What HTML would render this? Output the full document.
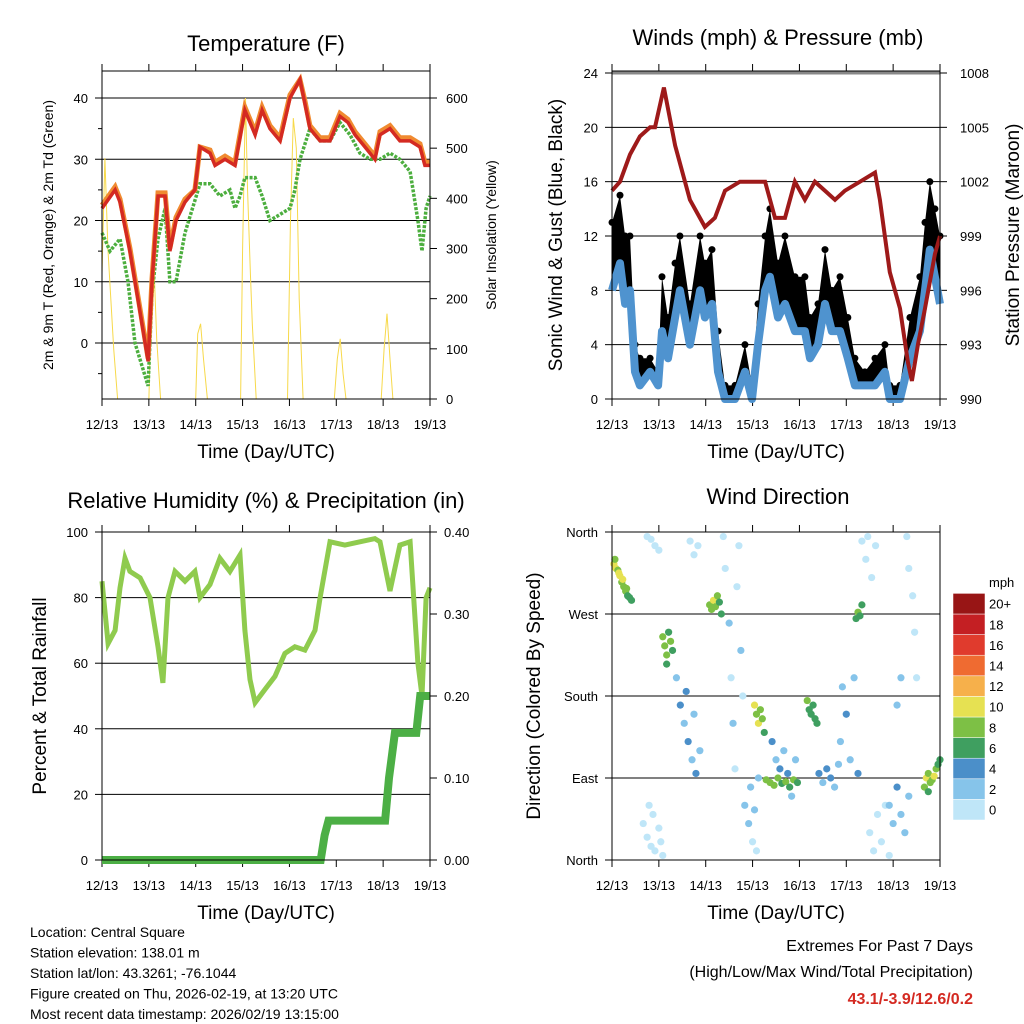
<!DOCTYPE html>
<html><head><meta charset="utf-8">
<style>
html,body{margin:0;padding:0;background:#fff;}
svg{display:block;font-family:"Liberation Sans",sans-serif;}
</style></head>
<body>
<svg id="chart" width="1024" height="1024" viewBox="0 0 1024 1024" xmlns="http://www.w3.org/2000/svg"></svg>
<script>
// ---------- DATA ----------
const dayLabels = ["12/13","13/13","14/13","15/13","16/13","17/13","18/13","19/13"];
// Temperature panel
const tempHours = [0,6.7,9.2,14.3,19.5,23.6,25.6,28.7,32.3,34.8,37.9,42.5,47.6,50.2,55.3,57.9,63,68.1,73.2,75.8,78.4,82,86,91.2,96.3,101.4,104,106.5,111.7,116.8,121.9,126,129.6,134.7,139.8,142.4,147.5,152.6,157.8,162.9,165.4,168];
const temp2m = [22,25,23,15,5,-3,10,24,24,15,20,23,25,32,31,29,30,29,38,36,34,38,35,33,40,43,39,35,33,33,37,36,34,32,30,34,35,33,33,32,29,29];
const temp9m = [22.5,25.5,23.5,15.5,5.5,-2.5,10.5,24.5,24.5,15.5,20.5,23.5,25,32,31.5,29.5,30.5,29.5,38.5,36.5,34.5,38.5,35.5,33.5,40.5,43,39.5,35.5,33.5,33.5,37.5,36.5,34.5,32.5,30.5,34.5,35.5,33.5,33.5,32.5,29.5,29.5];
const dewHours = [0,4.1,9.2,13.3,16.9,23.6,25.6,28.7,32.3,34.8,37.9,42.5,50.2,55.3,60.4,65.5,68.1,70.7,73.2,78.4,82,86,91.2,96.3,98.8,101.4,106.5,111.7,116.8,121.9,127,132.1,137.3,142.4,147.5,152.6,157.8,161.8,163.9,166,168];
const dewPoint = [18,15,17,10,0,-7,8,17,22,10,10,18,26,26,24,25,22,24,27,27,24,20,21,22,25,30,35,33,33,36,34,31,30,30,31,30,28,20,15,22,24];
const solarHours = [0,1.5,3,4.5,6,8,24,25,26.5,28,29,30,48,49,50.5,52,54,71,72,73.5,74.5,76,77,79,95,96.5,98,99.5,101,103,119,120.5,122,123.5,125,143,144.5,146,147.5,149,168];
const solarVals = [250,480,300,200,100,0,0,150,280,120,60,0,0,130,150,80,0,0,300,600,420,250,150,0,0,350,560,500,200,0,0,80,120,50,0,0,100,170,80,0,0];
// Winds panel
const windHours = [0,4.1,6.7,9.2,11.8,14.3,19.5,23.6,25.6,28.7,32.3,34.8,39.9,45.1,47.6,51.2,54.3,57.9,63,68.1,71.7,74.8,78.4,80.9,85,88.6,93.7,98.8,101.4,105.5,109.1,112.6,116.8,120.8,124.4,129.5,134.7,139.8,142.3,147.5,152.6,157.7,160.3,162.8,165.4,168];
const windSpeed = [8,10,7,8,2,1,2,1,5,3,6,8,4,8,6,7,2,0,0,2,0,4,8,9,6,7,5,5,3,4,7,5,5,3,1,1,1,2,0,0,3,5,8,11,9,7];
const windGust = [13,15,12,12,4,3,3,2,9,6,10,12,7,12,10,11,5,1,1,4,1,7,12,14,10,12,9,9,6,7,11,8,9,6,3,2,3,4,1,1,6,9,13,16,14,12];
const presHours = [0,4.1,9.2,14.3,19.5,22,26.6,32.3,39.9,47.6,52.7,57.9,65.5,73.2,78.4,83.5,88.6,93.7,98.8,103.9,109.1,114.2,119.3,127,134.7,137.2,142.3,147.5,151.6,153.6,156.7,160.3,165.4,168];
const pressure = [1001.5,1002,1003.5,1004.5,1005,1005,1007.2,1004,1001,999.5,1000,1001.5,1002,1002,1002,1000,1000,1002,1001,1002,1001.5,1001,1001.5,1002,1002.5,1001,997,995,992,991,993,995,998,999];
// RH panel
const rhHours = [0,3.1,6.7,9.2,11.8,14.3,19.5,24.6,28.7,31.2,33.8,37.4,42.5,47.6,50.2,55.3,60.4,65.5,70.7,73.2,75.8,78.4,83.5,88.6,93.7,98.8,103.9,109.1,111.7,116.8,124.4,132.1,139.8,142.4,147.5,152.6,157.8,161.8,163.9,166,168];
const rhVals = [85,66,70,83,92,88,86,80,65,54,80,88,85,88,80,84,92,88,93,70,55,48,52,56,63,65,64,70,80,97,96,97,98,97,82,96,97,60,50,80,83];
const precipHours = [0,112,114,116,145,147,150,161,163,168];
const precipVals = [0,0,0.03,0.048,0.048,0.1,0.155,0.155,0.2,0.2];
// Wind direction panel
const dirHours = [1,2,3,4,5,6,7,8,9,10,1.5,3.5,5.5,7.5, 20,22,24,18, 16,18,19,20,21,22,24,25,26, 26,27,28,29,30,31,28, 33,35,37,39,41,43,45,38,42, 40,42,44, 50,51,52,53,54,55,56, 57,58,60,61,62,63,64,65,66,67, 68,70,71,72,73,74,75, 73,74,75,76,77,78, 79,81,83,85,87,89,91,93,95, 82,84,86,88,90,92,94, 100,101,102,103,104,105, 106,108,110,112,114,116, 117,118,120,122,124,126, 125,126,127,128, 128,130,131,133,135, 132,134,136,138,140,142, 142,144,146,148,150,152,146,148, 151,152,154,155,156, 160,161,162,163,164,165,166,167,168,162];
const dirDegs = [325,320,318,312,305,300,295,290,288,285,330,315,308,298, 352,345,340,355, 40,25,60,15,50,10,35,20,5, 245,235,225,250,240,230,215, 200,170,150,130,110,95,120,185,160, 350,335,345, 280,275,285,278,290,283,270, 355,320,260,200,150,100,300,345,230,180, 60,40,80,20,55,10,90, 170,160,150,165,155,140, 88,85,82,90,84,86,80,88,85, 130,110,100,120,95,70,110, 175,165,160,170,155,150, 95,85,100,90,80,105, 130,190,160,110,200,95, 265,272,268,280, 350,330,355,310,345, 30,10,50,20,60,5, 60,40,80,50,30,70,170,200, 355,320,290,250,200, 80,90,95,85,88,92,100,105,110,75];
const dirSpeeds = [10,10,9,10,9,8,8,7,7,6,9,11,10,8, 1,1,1,1, 0,1,1,0,1,0,1,1,0, 8,9,8,7,8,7,6, 3,4,3,4,3,4,3,4,3, 1,1,1, 9,8,10,9,8,7,6, 0,1,2,1,2,1,1,0,2,1, 3,2,3,1,2,1,3, 10,9,10,8,9,7, 9,8,9,8,7,8,7,8,6, 4,3,4,3,4,3,3, 8,7,6,7,6,7, 4,3,4,4,3,3, 3,3,4,3,3,4, 7,8,7,6, 1,1,0,1,1, 0,1,1,0,1,0, 3,3,4,2,3,3,3,2, 1,1,1,1,1, 9,10,9,8,9,11,8,7,6,7];
const cbarLabels = ["0","2","4","6","8","10","12","14","16","18","20+"];
const cbarColors = ["#bfe6f8","#86c4ea","#4b8fc9","#3f9f60","#7dc045","#e6e152","#f6b04b","#ef6b31","#e03b2d","#c41f23","#981515"];

// ---------- HELPERS ----------
const NS="http://www.w3.org/2000/svg";
const svg=document.getElementById('chart');
function el(tag,attrs,parent){const e=document.createElementNS(NS,tag);for(const k in attrs)e.setAttribute(k,attrs[k]);(parent||svg).appendChild(e);return e;}
function txt(s,x,y,size,anchor,parent,extra){const e=el('text',Object.assign({x:x,y:y,'font-size':size,'text-anchor':anchor||'middle',fill:'#000'},extra||{}),parent);e.textContent=s;return e;}
function lin(d0,d1,r0,r1){return v=>r0+(v-d0)/(d1-d0)*(r1-r0);}
function pts(xs,ys,fx,fy){return xs.map((h,i)=>fx(h).toFixed(1)+','+fy(ys[i]).toFixed(1)).join(' ');}

function xAxis(g,L,R,B,T){
  const fx=lin(0,168,L,R);
  for(let d=0;d<=7;d++){
    const x=fx(d*24);
    el('line',{x1:x,y1:B,x2:x,y2:B+7,stroke:'#000','stroke-width':1},g);
    el('line',{x1:x,y1:T,x2:x,y2:T-7,stroke:'#000','stroke-width':1},g);
    const t=txt(dayLabels[d],x,B+30,13,'middle',g);
    
    
  }
  const xt=txt('Time (Day/UTC)',(L+R)/2,B+59,19,'middle',g);
  
  
  return fx;
}
function frame(g,L,R,T,B){el('rect',{x:L,y:T,width:R-L,height:B-T,fill:'none',stroke:'#000','stroke-width':1},g);}

// ---------- PANEL 1: TEMPERATURE ----------
(function(){
  const g=el('g',{});
  
  
  const L=102,R=430,T=71,B=399;
  const fx=xAxis(g,L,R,B,T);
  const fy=lin(0,40,343,98);
  const fs=lin(0,600,399,98);
  [0,10,20,30,40].forEach(v=>{el('line',{x1:L,y1:fy(v),x2:R,y2:fy(v),stroke:'#000','stroke-width':1},g);
    el('line',{x1:L-7,y1:fy(v),x2:L,y2:fy(v),stroke:'#000'},g);
    const t=txt(String(v),L-14,fy(v)+5,13,'end',g);});
  [-5,5,15,25,35].forEach(v=>el('line',{x1:L-4,y1:fy(v),x2:L,y2:fy(v),stroke:'#000'},g));
  [0,100,200,300,400,500,600].forEach(v=>{el('line',{x1:R,y1:fs(v),x2:R+7,y2:fs(v),stroke:'#000'},g);
    const t=txt(String(v),R+16,fs(v)+5,13,'start',g);});
  const sol=el('polyline',{points:pts(solarHours,solarVals,fx,fs),fill:'none',stroke:'#f7d94a','stroke-width':1},g);
  
  const dw=el('polyline',{points:pts(dewHours,dewPoint,fx,fy),fill:'none',stroke:'#4cae3e','stroke-width':3.5,'stroke-dasharray':'3 1.5'},g);
  
  const t9=el('polyline',{points:pts(tempHours,temp9m,fx,fy),fill:'none',stroke:'#f08a30','stroke-width':5},g);
  
  const t2=el('polyline',{points:pts(tempHours,temp2m,fx,fy),fill:'none',stroke:'#d42a22','stroke-width':3.5},g);
  
  frame(g,L,R,T,B);
  const ti=txt('Temperature (F)',266,51,22,'middle',g);
  const yl=txt('2m & 9m T (Red, Orange) & 2m Td (Green)',0,0,14,'middle',g,{transform:'translate(53,235) rotate(-90)'});
  
  const yr=txt('Solar Insolation (Yellow)',0,0,14,'middle',g,{transform:'translate(496,235) rotate(-90)'});
  
})();

// ---------- PANEL 2: WINDS ----------
(function(){
  const g=el('g',{});
  
  
  const L=612,R=940,T=71,B=399;
  const fx=xAxis(g,L,R,B,T);
  const fy=lin(0,24,399,73);
  const fp=lin(990,1008,399,73);
  [4,8,12,16,20].forEach(v=>el('line',{x1:L,y1:fy(v),x2:R,y2:fy(v),stroke:'#000'},g));
  el('line',{x1:L,y1:fy(24),x2:R,y2:fy(24),stroke:'#888','stroke-width':3},g);
  [0,4,8,12,16,20,24].forEach(v=>{el('line',{x1:L-7,y1:fy(v),x2:L,y2:fy(v),stroke:'#000'},g);
    const t=txt(String(v),L-14,fy(v)+5,13,'end',g);});
  [990,993,996,999,1002,1005,1008].forEach(v=>{el('line',{x1:R,y1:fp(v),x2:R+7,y2:fp(v),stroke:'#000'},g);
    const t=txt(String(v),R+20,fp(v)+5,13,'start',g);});
  const band=windHours.map((h,i)=>fx(h).toFixed(1)+','+fy(windGust[i]).toFixed(1)).concat(windHours.slice().reverse().map((h,j)=>{const i=windHours.length-1-j;return fx(h).toFixed(1)+','+fy(windSpeed[i]).toFixed(1);})).join(' ');
  const gb=el('polygon',{points:band,fill:'#000'},g);
  
  windHours.forEach((h,i)=>{const c=el('circle',{cx:fx(h),cy:fy(windGust[i]),r:3.5,fill:'#000'},g);
    });
  const ws=el('polyline',{points:pts(windHours,windSpeed,fx,fy),fill:'none',stroke:'#4f93cf','stroke-width':8,'stroke-linejoin':'round'},g);
  
  const pr=el('polyline',{points:pts(presHours,pressure,fx,fp),fill:'none',stroke:'#9e1a1a','stroke-width':4},g);
  
  frame(g,L,R,T,B);
  const ti=txt('Winds (mph) & Pressure (mb)',778,45,22,'middle',g);
  const yl=txt('Sonic Wind & Gust (Blue, Black)',0,0,19,'middle',g,{transform:'translate(562,235) rotate(-90)'});
  
  const yr=txt('Station Pressure (Maroon)',0,0,19,'middle',g,{transform:'translate(1019,235) rotate(-90)'});
  
})();

// ---------- PANEL 3: RH & PRECIP ----------
(function(){
  const g=el('g',{});
  
  
  const L=102,R=430,T=532,B=860;
  const fx=xAxis(g,L,R,B,T);
  const fy=lin(0,100,860,532);
  const fr=lin(0,0.4,860,532);
  [20,40,60,80].forEach(v=>el('line',{x1:L,y1:fy(v),x2:R,y2:fy(v),stroke:'#000'},g));
  [0,20,40,60,80,100].forEach(v=>{el('line',{x1:L-7,y1:fy(v),x2:L,y2:fy(v),stroke:'#000'},g);
    const t=txt(String(v),L-14,fy(v)+5,13,'end',g);});
  ["0.00","0.10","0.20","0.30","0.40"].forEach((s,i)=>{const v=i*0.1;el('line',{x1:R,y1:fr(v),x2:R+7,y2:fr(v),stroke:'#000'},g);
    const t=txt(s,R+14,fr(v)+5,13,'start',g);});
  const rh=el('polyline',{points:pts(rhHours,rhVals,fx,fy),fill:'none',stroke:'#8fcb4e','stroke-width':5},g);
  
  const pc=el('polyline',{points:pts(precipHours,precipVals,fx,fr),fill:'none',stroke:'#4caf45','stroke-width':8},g);
  
  frame(g,L,R,T,B);
  const ti=txt('Relative Humidity (%) & Precipitation (in)',266,508,22,'middle',g);
  const yl=txt('Percent & Total Rainfall',0,0,19,'middle',g,{transform:'translate(46,696) rotate(-90)'});
  
})();

// ---------- PANEL 4: WIND DIRECTION ----------
(function(){
  const g=el('g',{});
  
  
  const L=612,R=940,T=532,B=860;
  const fx=xAxis(g,L,R,B,T);
  const fy=lin(0,360,860,532);
  [90,180,270].forEach(v=>el('line',{x1:L,y1:fy(v),x2:R,y2:fy(v),stroke:'#000'},g));
  [[0,'North'],[90,'East'],[180,'South'],[270,'West'],[360,'North']].forEach(p=>{
    el('line',{x1:L-7,y1:fy(p[0]),x2:L,y2:fy(p[0]),stroke:'#000'},g);
    const t=txt(p[1],L-14,fy(p[0])+5,13,'end',g);});
  function colorFor(s){let i=Math.floor(s/2);if(i>10)i=10;if(i<0)i=0;return cbarColors[i];}
  dirHours.forEach((h,i)=>{const c=el('circle',{cx:fx(h),cy:fy(dirDegs[i]),r:3.6,fill:colorFor(dirSpeeds[i])},g);
    });
  frame(g,L,R,T,B);
  const ti=txt('Wind Direction',778,504,22,'middle',g);
  const yl=txt('Direction (Colored By Speed)',0,0,19,'middle',g,{transform:'translate(540,696) rotate(-90)'});
  
  const cb=el('g',{},g);
  
  
  const bh=20.6, by=820;
  cbarLabels.forEach((s,i)=>{const y=by-(i+1)*bh;
    const r=el('rect',{x:953,y:y,width:32,height:bh,fill:cbarColors[i],stroke:'#fff','stroke-width':0.5},cb);
    
    const t=txt(s,989,y+bh/2+5,13,'start',cb);});
  const u=txt('mph',989,587,13,'start',cb);
})();

// ---------- FOOTER ----------
(function(){
  const g=el('g',{});
  
  
  ["Location: Central Square","Station elevation: 138.01 m","Station lat/lon: 43.3261; -76.1044","Figure created on Thu, 2026-02-19, at 13:20 UTC","Most recent data timestamp: 2026/02/19 13:15:00"].forEach((s,i)=>{
    const t=txt(s,30,937+i*20.5,14,'start',g);});
  const e=el('g',{});
  
  
  txt('Extremes For Past 7 Days',973,951,16,'end',e);
  txt('(High/Low/Max Wind/Total Precipitation)',973,977,16,'end',e);
  txt('43.1/-3.9/12.6/0.2',973,1004,16,'end',e,{fill:'#d42a22','font-weight':'bold'});
})();
</script>
</body></html>
